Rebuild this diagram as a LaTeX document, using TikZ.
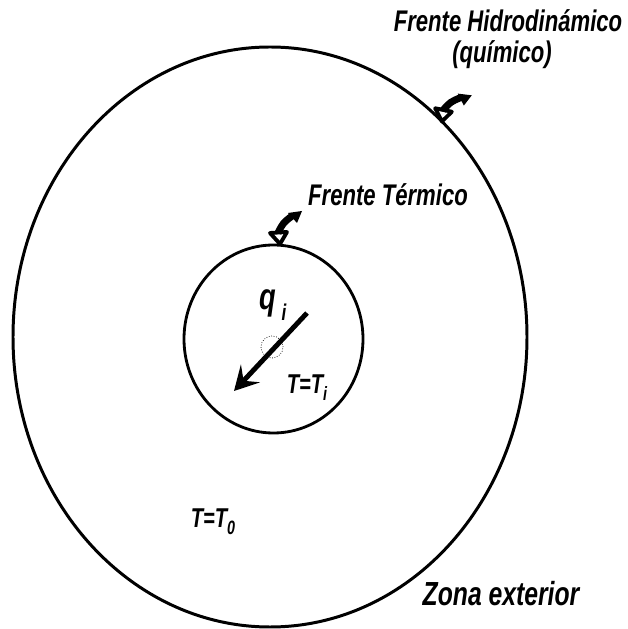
\documentclass[tikz,border=0pt]{standalone}
\usepackage{fontspec}
\setmainfont{Liberation Sans}[FakeStretch=0.74]
\usetikzlibrary{arrows.meta,calc}

\tikzset{
	lbl/.style={font=\bfseries\itshape\fontsize{17}{19}\selectfont, inner sep=0pt},
	lblT/.style={font=\bfseries\itshape\fontsize{15.5}{17}\selectfont, inner sep=0pt},
	frente/.pic={
		\begin{scope}[x=0.02cm,y=0.02cm]
			\draw[line width=2.2pt,line join=round,fill=white] (0,0) -- (-10,11) -- (7,12) -- cycle;
			\draw[line width=4pt] (-2,11) .. controls (3,21) .. (12,28);
			\fill (8,31) -- (22,33) -- (17,21) -- cycle;
		\end{scope}
	}
}

\begin{document}
\begin{tikzpicture}
		
		\useasboundingbox (0,0) rectangle (12.56,12.58);
		
		% --- the two fronts ---
		\coordinate (Oext) at (5.40,5.84);
		\coordinate (Oint) at (5.47,5.80);
		\draw[line width=1.7pt] (Oext) ellipse [x radius=5.14, y radius=5.80]; % frente hidrodinamico
		\draw[line width=1.6pt] (Oint) ellipse [x radius=1.79, y radius=1.88]; % frente termico
		
		% markers on the fronts
		\pic[rotate=-15] at ($(Oext)+(48:5.14 and 5.80)$) {frente};
		\pic at (5.60,7.70) {frente};
		
		% injection well and flow q_i
		\coordinate (pozo) at (5.44,5.64);
		\draw[densely dotted,thin] (pozo) circle (0.22);
		\coordinate (qtail) at (6.14,6.32);
		\coordinate (qtip) at (4.68,4.76);
		\draw[line width=2.8pt,-{Stealth[length=4.8mm,width=5.2mm,inset=2mm]}] (qtail) -- (qtip);
		
		% labels
		\node[lbl] (hidro) at (10.16,12.16) {Frente Hidrodinámico};
		\node[lbl] (quim) at (10.04,11.48) {(químico)};
		\node[lbl] (term) at (7.76,8.68) {Frente Térmico};
		\node[lbl,font=\bfseries\itshape\fontsize{19}{21}\selectfont] (zona) at (10.02,0.70) {Zona exterior};
		\node[lbl,font=\bfseries\itshape\fontsize{21}{23}\selectfont] (qi) at (5.46,6.48) {q\kern3pt\raisebox{-6pt}{\fontsize{13}{15}\selectfont i}};
		\node[lblT] (Ti) at (6.14,4.82) {T=T\raisebox{-4pt}{\fontsize{11}{13}\selectfont i}};
		\node[lblT] (To) at (4.26,2.14) {T=T\raisebox{-4pt}{\fontsize{11}{13}\selectfont 0}};
		
	\end{tikzpicture}
\end{document}
